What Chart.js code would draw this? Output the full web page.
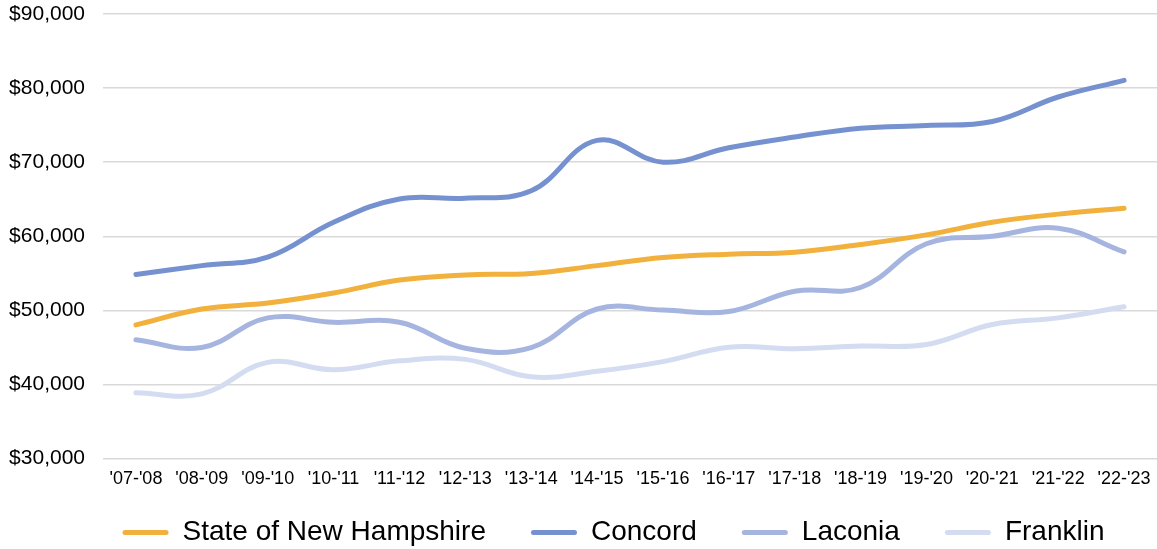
<!DOCTYPE html>
<html>
<head>
<meta charset="utf-8">
<script src="https://cdn.jsdelivr.net/npm/chart.js@4/dist/chart.umd.min.js"></script>
<style>
  html, body { margin: 0; padding: 0; background: #fff; overflow: hidden; }
  #wrap { width: 1157px; height: 549px; position: relative; }
</style>
</head>
<body>
<div id="wrap"><canvas id="c" width="1157" height="549"></canvas></div>
<script>
const categories = ["'07-'08", "'08-'09", "'09-'10", "'10-'11", "'11-'12", "'12-'13", "'13-'14", "'14-'15",
                    "'15-'16", "'16-'17", "'17-'18", "'18-'19", "'19-'20", "'20-'21", "'21-'22", "'22-'23"];
const stateNH  = [48050, 50200, 51000, 52350, 54100, 54800, 55000, 56050, 57150, 57600, 57850, 58900, 60200, 61900, 63000, 63800];
const concord  = [54850, 56050, 57200, 61900, 65050, 65150, 66150, 72950, 70000, 71950, 73400, 74600, 74950, 75500, 78800, 81050];
const laconia  = [46050, 45000, 49000, 48400, 48400, 44900, 45000, 50200, 50050, 49850, 52600, 53100, 59000, 60000, 61100, 57900];
const franklin = [38900, 38750, 43000, 42000, 43200, 43400, 41050, 41800, 43100, 45050, 44850, 45200, 45400, 48100, 49000, 50500];
const seriesNames = ["State of New Hampshire", "Concord", "Laconia", "Franklin"];
const yTicks = [30000, 40000, 50000, 60000, 70000, 80000, 90000];

const colors = ['#F1B13C', '#7591CF', '#A6B5DF', '#D3DCF0'];
const FONT = "'Liberation Sans', Arial, sans-serif";

function ds(label, data, color) {
  return {
    label, data,
    borderColor: color, backgroundColor: color,
    borderWidth: 5, tension: 0.4, pointRadius: 0, pointHoverRadius: 0,
    borderCapStyle: 'round', borderJoinStyle: 'round', fill: false
  };
}

// place the legend row where the reference has it
const legendPlacer = {
  id: 'legendPlacer',
  afterLayout(chart) {
    const lg = chart.legend;
    if (!lg) return;
    const h = lg.bottom - lg.top;
    lg.top = chart.height - 75.5;
    lg.bottom = lg.top + h;
    lg.left += 35;
    lg.right += 35;
  }
};

new Chart(document.getElementById('c'), {
  type: 'line',
  data: {
    labels: categories,
    datasets: [
      ds(seriesNames[0], stateNH, colors[0]),
      ds(seriesNames[1], concord, colors[1]),
      ds(seriesNames[2], laconia, colors[2]),
      ds(seriesNames[3], franklin, colors[3])
    ]
  },
  plugins: [legendPlacer],
  options: {
    responsive: false,
    animation: false,
    devicePixelRatio: 1,
    layout: { padding: { top: 14, right: 0, left: 0, bottom: -27.7 } },
    plugins: {
      tooltip: { enabled: false },
      legend: {
        position: 'bottom',
        labels: {
          font: { family: FONT, size: 28 },
          color: '#000',
          boxWidth: 46,
          boxHeight: 5,
          padding: 45,
          useBorderRadius: true,
          borderRadius: 2.5,
          generateLabels(chart) {
            const items = Chart.defaults.plugins.legend.labels.generateLabels(chart);
            items.forEach(it => { it.lineWidth = 0; it.fillStyle = it.strokeStyle; });
            return items;
          }
        }
      }
    },
    scales: {
      x: {
        offset: true,
        grid: { display: false, drawTicks: false },
        border: { display: false },
        ticks: { font: { family: FONT, size: 18 }, color: '#000', padding: 10, maxRotation: 0, autoSkip: false },
        afterFit(scale) { scale.height = 35; scale.paddingLeft = 0; scale.paddingRight = 0; }
      },
      y: {
        min: 30000, max: 90000,
        afterBuildTicks(scale) { scale.ticks = yTicks.map(v => ({ value: v })); },
        grid: { color: '#D9D9D9', lineWidth: 1.6, drawTicks: false },
        border: { display: false },
        ticks: {
          font: { family: FONT, size: 21 }, color: '#000', padding: 18,
          callback: v => '$' + Number(v).toLocaleString('en-US')
        },
        afterFit(scale) { scale.width = 103; scale.paddingTop = 0; scale.paddingBottom = 0; }
      }
    }
  }
});
</script>
</body>
</html>
